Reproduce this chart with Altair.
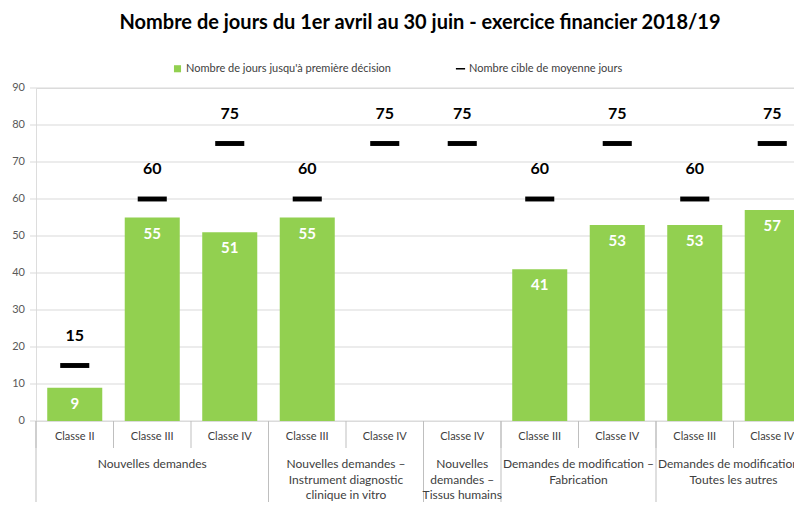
import altair as alt
import pandas as pd

title_text = "Nombre de jours du  1er avril au 30 juin - exercice financier 2018/19"
categories = ["Classe II", "Classe III", "Classe IV", "Classe III", "Classe IV",
              "Classe IV", "Classe III", "Classe IV", "Classe III", "Classe IV"]
groups = ["Nouvelles demandes"] * 3 \
    + ["Nouvelles demandes –\nInstrument diagnostic\nclinique in vitro"] * 2 \
    + ["Nouvelles\ndemandes –\nTissus humains\nou animaux"] \
    + ["Demandes de modification –\nFabrication"] * 2 \
    + ["Demandes de modification –\nToutes les autres"] * 2
days = [9, 55, 51, 55, None, None, 41, 53, 53, 57]
targets = [15, 60, 75, 60, 75, 75, 60, 75, 60, 75]
series_bar = "Nombre de jours jusqu'à première décision"
series_target = "Nombre cible de moyenne jours"
y_ticks = list(range(0, 100, 10))

GREEN = "#92D050"
GRID = "#d9d9d9"
LINE = "#bfbfbf"
TXT = "#404040"
FONT = "Lato"

W, H = 758, 333
STEP = 77.5
x_domain = [-0.5, -0.5 + W / STEP]

df = pd.DataFrame({
    "pos": list(range(len(categories))),
    "cat": categories,
    "group": groups,
    "days": days,
    "target": targets,
})
df["serie"] = series_target

grp_rows = []
for g in dict.fromkeys(groups):
    idx = [i for i, gg in enumerate(groups) if gg == g]
    grp_rows.append({"label": g, "center": sum(idx) / len(idx), "start": idx[0] - 0.5})
gdf = pd.DataFrame(grp_rows)

ydf = pd.DataFrame({"tick": y_ticks})

xscale = alt.Scale(domain=x_domain, nice=False, zero=False)
yscale = alt.Scale(domain=[0, 90], nice=False, zero=True)

domain_axis = alt.Axis(ticks=False, labels=False, grid=False, domainColor=LINE)

base = alt.Chart(df)

# horizontal gridlines (+ small outer ticks) and y tick labels
grid = alt.Chart(ydf).mark_rule(color=GRID, strokeWidth=1).encode(
    y=alt.Y("tick:Q", scale=yscale, axis=None),
    x=alt.value(-6),
    x2=alt.value(W),
)
y_labels = alt.Chart(ydf).mark_text(
    align="right", baseline="middle", fontSize=11, color="#595959", font=FONT
).encode(
    y=alt.Y("tick:Q", scale=yscale, axis=None),
    x=alt.value(-11),
    text=alt.Text("tick:Q", format="d"),
)

bars = base.transform_filter("isValid(datum.days)").transform_calculate(
    x0="datum.pos - 0.355", x1="datum.pos + 0.355"
).mark_bar(color=GREEN, clip=True).encode(
    x=alt.X("x0:Q", scale=xscale, title=None, axis=domain_axis),
    x2="x1:Q",
    y=alt.Y("days:Q", scale=yscale, title=None, axis=domain_axis),
    y2=alt.datum(0),
)

bar_labels = base.transform_filter("isValid(datum.days)").mark_text(
    color="white", fontWeight="bold", fontSize=15, font=FONT, baseline="middle", dy=16, clip=True
).encode(
    x=alt.X("pos:Q", scale=xscale, axis=None),
    y=alt.Y("days:Q", scale=yscale, axis=None),
    text=alt.Text("days:Q", format="d"),
)

legend = alt.Legend(
    orient="none", legendX=136, legendY=-25, direction="horizontal", title=None,
    labelFont=FONT, labelFontSize=11, labelColor=TXT, symbolSize=50,
    symbolStrokeWidth=0, labelLimit=400, columnPadding=64, labelOffset=3,
)
dash = "M-1.3,-0.22H1.3V0.22H-1.3Z"

markers = base.mark_point(filled=True, size=500, opacity=1, clip=True).encode(
    x=alt.X("pos:Q", scale=xscale, axis=None),
    y=alt.Y("target:Q", scale=yscale, axis=None),
    color=alt.Color("serie:N", scale=alt.Scale(domain=[series_bar, series_target], range=[GREEN, "black"]), legend=legend),
    shape=alt.Shape("serie:N", scale=alt.Scale(domain=[series_bar, series_target], range=["square", dash]), legend=legend),
)

target_labels = base.mark_text(
    color="black", fontWeight="bold", fontSize=16, font=FONT, baseline="middle", dy=-30, clip=True
).encode(
    x=alt.X("pos:Q", scale=xscale, axis=None),
    y=alt.Y("target:Q", scale=yscale, axis=None),
    text=alt.Text("target:Q", format="d"),
)

# short separators between categories, below the axis
cat_ticks = base.transform_calculate(b="datum.pos - 0.5").mark_rule(color=LINE, strokeWidth=1).encode(
    x=alt.X("b:Q", scale=xscale, axis=None),
    y=alt.value(H),
    y2=alt.value(H + 27),
)

cat_labels = base.mark_text(
    baseline="middle", fontSize=11, color=TXT, font=FONT
).encode(
    x=alt.X("pos:Q", scale=xscale, axis=None),
    y=alt.value(H + 16),
    text="cat:N",
)

# long separators between groups
separators = alt.Chart(gdf).mark_rule(color=LINE, strokeWidth=1).encode(
    x=alt.X("start:Q", scale=xscale, axis=None),
    y=alt.value(H),
    y2=alt.value(H + 120),
)

group_labels = alt.Chart(gdf).mark_text(
    lineBreak="\n", baseline="top", fontSize=12, lineHeight=15.5, color=TXT, font=FONT
).encode(
    x=alt.X("center:Q", scale=xscale, axis=None),
    y=alt.value(H + 38),
    text="label:N",
)

chart = alt.layer(
    grid, y_labels, bars, bar_labels, markers, target_labels,
    cat_ticks, cat_labels, separators, group_labels
).properties(
    width=W, height=H,
    title=alt.TitleParams(title_text, font=FONT, fontSize=20, fontWeight="bold",
                          color="black", anchor="middle", offset=30, dx=5),
    autosize=alt.AutoSizeParams(type="none"),
    padding={"left": 28, "top": 80, "right": 0, "bottom": 81},
).configure_view(stroke=None).configure(background="white")

chart.save("out.html", embed_options={"renderer": "svg", "actions": False})
